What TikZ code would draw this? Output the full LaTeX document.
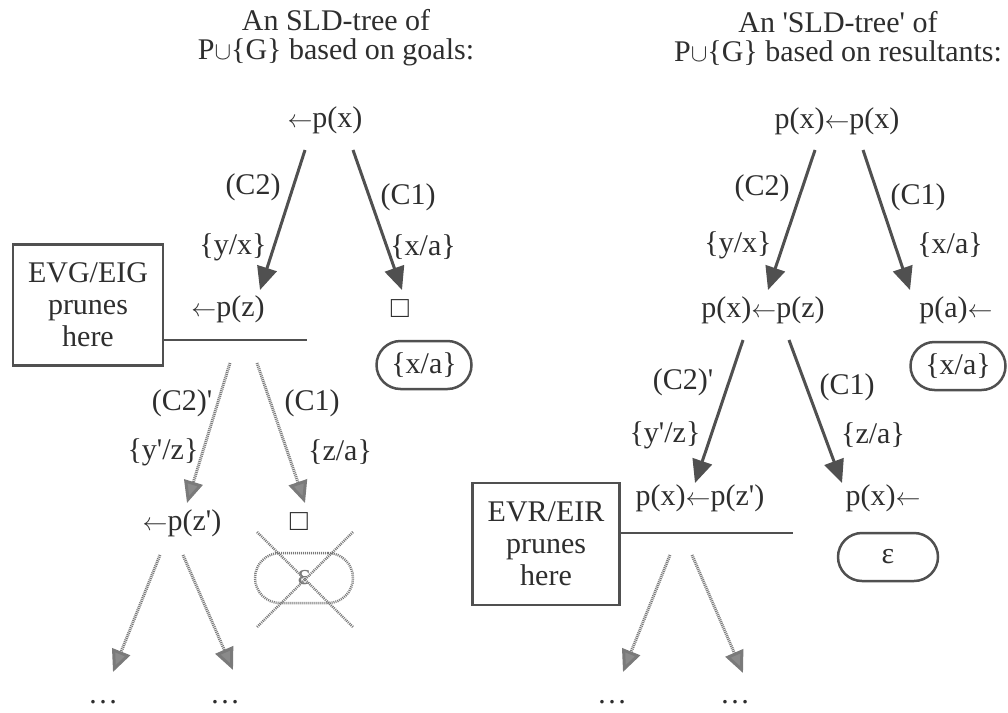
\documentclass[tikz,border=0pt]{standalone}
\usepackage{fontspec}
\setmainfont{Liberation Serif}
\usetikzlibrary{arrows.meta}
\definecolor{ink}{HTML}{2E2E2E}
\definecolor{ln}{HTML}{505050}
\definecolor{faint}{HTML}{7A7A7A}
\definecolor{fainthead}{HTML}{8A8A8A}
\newcommand{\myq}{\textquotesingle}
\newcommand{\lar}{\ensuremath{\leftarrow}}
\begin{document}
\begin{tikzpicture}[x=1pt,y=-1pt, font=\fontsize{30}{29}\selectfont, text=ink,
 every node/.style={inner sep=0pt, outer sep=0pt},
 title/.style={align=center},
 mainarrow/.style={draw=ln, line width=3pt, -{Triangle[length=23pt,width=20pt]}},
 prunedarrow/.style={draw=faint, line width=3pt, dash pattern=on 1pt off 0.9pt, -{Triangle[length=22pt,width=19pt,fill=fainthead]}},
 result/.style={draw=ln, line width=2.5pt, rounded corners=24pt, minimum width=95pt, minimum height=48pt},
 crossed/.style={draw=faint, line width=2.5pt, dash pattern=on 1pt off 1pt, rounded corners=25pt, minimum width=98pt, minimum height=50pt, text=faint},
 prunebox/.style={draw=ln, line width=2.5pt, align=center, minimum width=150pt, minimum height=121pt},
 pruneline/.style={draw=ln, line width=2.5pt},
 crossline/.style={draw=faint, line width=2.5pt, dash pattern=on 1pt off 1pt}
]
\useasboundingbox (0,0) rectangle (1008,712);

% ---------------- left tree ----------------
\node[title] (tL) at (336,38) {An SLD-tree of\\P$\cup$\{G\} based on goals:};
\node (L0) at (325,120) {\lar p(x)};
\node (L1a) at (228,309) {\lar p(z)};
\node (L1b) at (400,309) {□};
\node[result] (L1r) at (424,365) {\{x/a\}};
\node[prunebox] (pbL) at (88,305) {EVG/EIG\\[3pt]prunes\\[3pt]here};
\node (L2a) at (182,523) {\lar p(z\myq)};
\node (L2b) at (299,522) {□};
\node[crossed] (L2r) at (304,578) {ε};
\node (L3a) at (103,702) {…};
\node (L3b) at (225,702) {…};

\node (lC2) at (253,187) {(C2)};
\node (lC1) at (408,197) {(C1)};
\node (lyx) at (233,247) {\{y/x\}};
\node (lxa) at (423,247) {\{x/a\}};
\node (lC2p) at (182,403) {(C2)\myq};
\node (lC1b) at (312,403) {(C1)};
\node (lyz) at (163,452) {\{y\myq/z\}};
\node (lza) at (340,452) {\{z/a\}};

\coordinate (a1s) at (305,150); \coordinate (a1e) at (260,290);
\coordinate (a2s) at (353,150); \coordinate (a2e) at (402,290);
\coordinate (b1s) at (230,363); \coordinate (b1e) at (187,503);
\coordinate (b2s) at (257,363); \coordinate (b2e) at (305,503);
\coordinate (c1s) at (160,555); \coordinate (c1e) at (113,672);
\coordinate (c2s) at (183,555); \coordinate (c2e) at (233,670);
\draw[mainarrow] (a1s) -- (a1e);
\draw[mainarrow] (a2s) -- (a2e);
\draw[prunedarrow] (b1s) -- (b1e);
\draw[prunedarrow] (b2s) -- (b2e);
\draw[prunedarrow] (c1s) -- (c1e);
\draw[prunedarrow] (c2s) -- (c2e);

\coordinate (pLe) at (307,340);
\draw[pruneline] (pbL.east |- pLe) -- (pLe);

\coordinate (x1) at (257,532); \coordinate (x2) at (353,627);
\coordinate (x3) at (353,532); \coordinate (x4) at (257,627);
\draw[crossline] (x1) -- (x2);
\draw[crossline] (x3) -- (x4);

% ---------------- right tree ----------------
\node[title] (tR) at (838,38) {An \myq SLD-tree\myq{} of\\P$\cup$\{G\} based on resultants:};
\node (R0) at (837,121) {p(x)\lar p(x)};
\node (R1a) at (763,310) {p(x)\lar p(z)};
\node (R1b) at (956,310) {p(a)\lar};
\node[result] (R1r) at (958,366) {\{x/a\}};
\node (R2a) at (700,498) {p(x)\lar p(z\myq)};
\node (R2b) at (883,498) {p(x)\lar};
\node[result, minimum width=100pt] (R2r) at (888,557) {ε};
\node[prunebox, minimum width=147pt, minimum height=122pt] (pbR) at (546,544) {EVR/EIR\\[3pt]prunes\\[3pt]here};
\node (R3a) at (612,702) {…};
\node (R3b) at (735,702) {…};

\node (rC2) at (762,188) {(C2)};
\node (rC1) at (918,197) {(C1)};
\node (ryx) at (738,245) {\{y/x\}};
\node (rxa) at (950,245) {\{x/a\}};
\node (rC2p) at (683,382) {(C2)\myq};
\node (rC1b) at (847,387) {(C1)};
\node (ryz) at (665,435) {\{y\myq/z\}};
\node (rza) at (873,435) {\{z/a\}};

\coordinate (d1s) at (815,150); \coordinate (d1e) at (768,290);
\coordinate (d2s) at (863,150); \coordinate (d2e) at (910,290);
\coordinate (e1s) at (743,340); \coordinate (e1e) at (695,483);
\coordinate (e2s) at (789,340); \coordinate (e2e) at (842,483);
\coordinate (f1s) at (670,555); \coordinate (f1e) at (623,672);
\coordinate (f2s) at (692,555); \coordinate (f2e) at (743,673);
\draw[mainarrow] (d1s) -- (d1e);
\draw[mainarrow] (d2s) -- (d2e);
\draw[mainarrow] (e1s) -- (e1e);
\draw[mainarrow] (e2s) -- (e2e);
\draw[prunedarrow] (f1s) -- (f1e);
\draw[prunedarrow] (f2s) -- (f2e);

\coordinate (pRe) at (793,533);
\draw[pruneline] (pbR.east |- pRe) -- (pRe);
\end{tikzpicture}
\end{document}
